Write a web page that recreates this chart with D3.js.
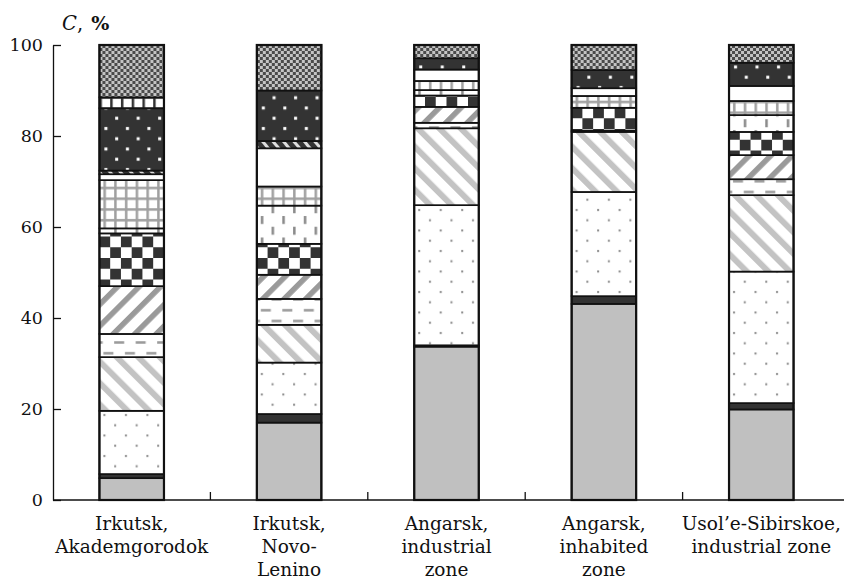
<!DOCTYPE html>
<html>
<head>
<meta charset="utf-8">
<script src="https://cdn.jsdelivr.net/npm/d3@7/dist/d3.min.js"></script>
<style>
  html, body { margin: 0; padding: 0; background: #fff; }
  svg { display: block; }
  text { font-family: "DejaVu Serif", "Liberation Serif", serif; fill: #111; }
</style>
</head>
<body>
<svg id="chart" width="849" height="581"></svg>
<script>
// Sampling sites (each label split into its printed lines)
const sites = [
  ["Irkutsk,", "Akademgorodok"],
  ["Irkutsk,", "Novo-", "Lenino"],
  ["Angarsk,", "industrial", "zone"],
  ["Angarsk,", "inhabited", "zone"],
  ["Usol\u2019e-Sibirskoe,", "industrial zone"]
];

// Share of each fraction, %, one value per site (stacked bottom to top)
const f01 = [4.8, 17.0, 33.7, 43.1, 19.9];
const f02 = [0.9, 1.9, 0.3, 1.7, 1.4];
const f03 = [13.9, 11.3, 30.8, 22.9, 28.9];
const f04 = [11.8, 8.3, 16.9, 13.2, 16.8];
const f05 = [5.1, 5.7, 1.2, 0.0, 3.5];
const f06 = [10.5, 5.3, 3.5, 0.3, 5.3];
const f07 = [11.6, 6.8, 2.5, 5.0, 5.1];
const f08 = [1.1, 8.4, 1.2, 0.0, 3.7];
const f09 = [10.6, 4.2, 2.0, 2.6, 3.1];
const f10 = [1.3, 8.4, 2.5, 1.7, 3.3];
const f11 = [0.8, 1.6, 0.0, 0.0, 0.0];
const f12 = [13.7, 11.1, 2.5, 4.0, 5.1];
const f13 = [2.4, 0.0, 0.0, 0.0, 0.0];
const f14 = [11.5, 10.0, 2.9, 5.5, 3.9];

const yTicks = [0, 20, 40, 60, 80, 100];

const fractions = [f01, f02, f03, f04, f05, f06, f07, f08, f09, f10, f11, f12, f13, f14];
const keys = fractions.map((_, i) => "f" + String(i + 1).padStart(2, "0"));
const rows = sites.map((s, j) => {
  const r = { site: j };
  fractions.forEach((arr, i) => { r[keys[i]] = arr[j]; });
  return r;
});

const svg = d3.select("#chart");
const plotLeft = 53, plotRight = 840, plotTop = 45, plotBottom = 500;

const x = d3.scaleBand().domain(d3.range(sites.length)).range([plotLeft, plotRight])
  .paddingInner(0.59).paddingOuter(0.295);
const y = d3.scaleLinear().domain([0, 100]).range([plotBottom, plotTop]);

// ---- fill patterns ----
const defs = svg.append("defs");
const C = 10.75; // pattern cell

function pat(id, w, h, draw, transform) {
  const p = defs.append("pattern").attr("id", id)
    .attr("patternUnits", "userSpaceOnUse").attr("width", w).attr("height", h);
  if (transform) p.attr("patternTransform", transform);
  draw(p);
  return p;
}
function rect(p, x0, y0, w, h, fill) {
  p.append("rect").attr("x", x0).attr("y", y0).attr("width", w).attr("height", h).attr("fill", fill);
}

// f03: grey dots on white
pat("p03", 2 * C, 2 * C - 1, p => {
  rect(p, 0, 0, 2 * C, 2 * C, "#fff");
  rect(p, 4, 4, 2, 2, "#8a8a8a");
  rect(p, 4 + C, 4 + C - 0.5, 2, 2, "#8a8a8a");
});
// f04: light grey stripes falling to the right
pat("p04", 15.2, 15.2, p => {
  rect(p, 0, 0, 15.2, 15.2, "#fff");
  rect(p, 0, 0, 6, 15.2, "#c3c3c3");
}, "rotate(-45)");
// f05: horizontal grey dashes
pat("p05", 2 * C, 2 * C, p => {
  rect(p, 0, 0, 2 * C, 2 * C, "#fff");
  rect(p, 4, 8, 10, 2.5, "#9a9a9a");
  rect(p, 4 + C, 8 + C, 10, 2.5, "#9a9a9a");
  rect(p, 4 + C - 2 * C, 8 + C, 10, 2.5, "#9a9a9a");
});
// f06: darker grey stripes rising to the right
pat("p06", 15.2, 15.2, p => {
  rect(p, 0, 0, 15.2, 15.2, "#fff");
  rect(p, 0, 0, 5.5, 15.2, "#9a9a9a");
}, "rotate(45)");
// f07: black-and-white checkerboard
pat("p07", 2 * C, 2 * C, p => {
  rect(p, 0, 0, 2 * C, 2 * C, "#fff");
  rect(p, 0, 0, C, C, "#333");
  rect(p, C, C, C, C, "#333");
});
// f08: vertical grey dashes
pat("p08", 2 * C, 2 * C, p => {
  rect(p, 0, 0, 2 * C, 2 * C, "#fff");
  rect(p, 4, 1, 2.5, 8, "#8a8a8a");
  rect(p, 4 + C, 1 + C, 2.5, 8, "#8a8a8a");
});
// f09: grey grid on white
pat("p09", C, C, p => {
  rect(p, 0, 0, C, C, "#fff");
  rect(p, 4, 0, 2.5, C, "#a0a0a0");
  rect(p, 0, 4, C, 2.5, "#a0a0a0");
});
// f11: dark band with light slanted marks
pat("p11", 8, 8, p => {
  rect(p, 0, 0, 8, 8, "#333");
  rect(p, 0, 0, 3, 8, "#ddd");
}, "rotate(-40)");
// f12: white dots on dark
pat("p12", 2 * C, 2 * C - 1, p => {
  rect(p, 0, 0, 2 * C, 2 * C, "#333");
  rect(p, 5, 4, 3, 3, "#fff");
  rect(p, 5 + C, 4 + C - 0.5, 3, 3, "#fff");
});
// f13: small white squares in dark frames
pat("p13", C, C, p => {
  rect(p, 0, 0, C, C, "#fff");
  rect(p, 0, 0, 2.5, C, "#333");
  rect(p, 0, 0, C, 2, "#333");
});
// f14: fine grey checkerboard
pat("p14", 6, 6, p => {
  rect(p, 0, 0, 6, 6, "#c4c4c4");
  rect(p, 0, 0, 3, 3, "#4a4a4a");
  rect(p, 3, 3, 3, 3, "#4a4a4a");
});

const fills = {
  f01: "#c0c0c0", f02: "#333", f03: "url(#p03)", f04: "url(#p04)", f05: "url(#p05)",
  f06: "url(#p06)", f07: "url(#p07)", f08: "url(#p08)", f09: "url(#p09)", f10: "#fff",
  f11: "url(#p11)", f12: "url(#p12)", f13: "url(#p13)", f14: "url(#p14)"
};

// ---- stacked bars ----
const stacked = d3.stack().keys(keys)(rows);

const bars = svg.append("g").selectAll("g.bar")
  .data(rows).join("g").attr("class", "bar")
  .attr("transform", d => `translate(${x(d.site)},0)`);

bars.each(function (row) {
  const g = d3.select(this);
  const segs = stacked.map(layer => ({ key: layer.key, y0: layer[row.site][0], y1: layer[row.site][1] }))
    .filter(s => s.y1 - s.y0 > 0);
  g.selectAll("rect").data(segs).join("rect")
    .attr("x", 0).attr("width", x.bandwidth())
    .attr("y", s => y(s.y1)).attr("height", s => y(s.y0) - y(s.y1))
    .attr("fill", s => fills[s.key])
    .attr("stroke", "#111").attr("stroke-width", 1.7);
  g.append("rect").attr("x", 0).attr("width", x.bandwidth())
    .attr("y", y(100)).attr("height", y(0) - y(100))
    .attr("fill", "none").attr("stroke", "#111").attr("stroke-width", 2.2);
});

// ---- y axis (ticks point into the plot) ----
const yAxis = d3.axisLeft(y).tickValues(yTicks).tickSizeInner(-8).tickSizeOuter(0).tickPadding(10);
const gy = svg.append("g").attr("transform", `translate(${plotLeft},0)`).call(yAxis);
gy.select(".domain").attr("stroke", "#111").attr("stroke-width", 1.3);
gy.selectAll(".tick line").attr("stroke", "#111").attr("stroke-width", 1.3);
gy.selectAll(".tick text").attr("font-family", "DejaVu Serif").attr("font-size", 17.5).attr("fill", "#111");

// ---- x axis: baseline with separators between sites ----
svg.append("line").attr("x1", plotLeft).attr("x2", plotRight + 4).attr("y1", plotBottom).attr("y2", plotBottom)
  .attr("stroke", "#111").attr("stroke-width", 1.3);
const step = x.step();
svg.append("g").selectAll("line").data(d3.range(1, sites.length)).join("line")
  .attr("x1", i => plotLeft + i * step).attr("x2", i => plotLeft + i * step)
  .attr("y1", plotBottom).attr("y2", plotBottom - 8)
  .attr("stroke", "#111").attr("stroke-width", 1.3);

const labels = svg.append("g").selectAll("text").data(sites).join("text")
  .attr("text-anchor", "middle").attr("font-size", 18.5)
  .attr("transform", (d, i) => `translate(${x(i) + x.bandwidth() / 2},0)`);
labels.selectAll("tspan").data(d => d).join("tspan")
  .attr("x", 0).attr("y", (d, k) => 530 + k * 23).text(d => d);

// ---- axis title ----
const title = svg.append("text").attr("x", 62).attr("y", 30).attr("font-size", 19.5);
title.append("tspan").attr("font-style", "italic").text("C");
title.append("tspan").text(",");
title.append("tspan").attr("dx", 8).attr("font-weight", "bold").attr("font-size", 19).text("%");
</script>
</body>
</html>
